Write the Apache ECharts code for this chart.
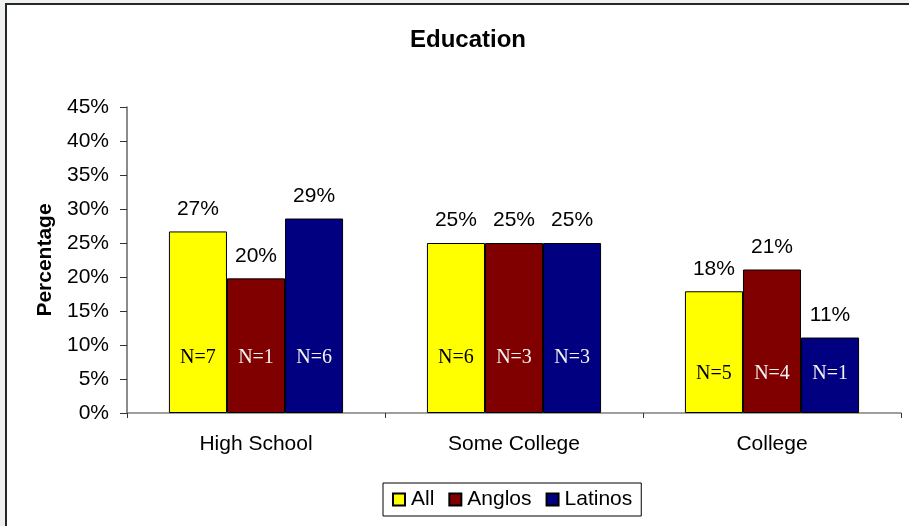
<!DOCTYPE html>
<html>
<head>
<meta charset="utf-8">
<script src="https://cdn.jsdelivr.net/npm/echarts@6/dist/echarts.min.js"></script>
<style>
html,body{margin:0;padding:0;background:#eef0f1;}
#chart{width:909px;height:526px;}
</style>
</head>
<body>
<div id="chart"></div>
<script>
const categories = ['High School', 'Some College', 'College'];
const seriesNames = ['All', 'Anglos', 'Latinos'];
const allPct = [26.7, 25, 17.9];
const angloPct = [19.8, 25, 21.1];
const latinoPct = [28.6, 25, 11.1];
const allN = [7, 6, 5];
const angloN = [1, 3, 4];
const latinoN = [6, 3, 1];
const yTicks = [0, 5, 10, 15, 20, 25, 30, 35, 40, 45];

const colors = ['#ffff00', '#800000', '#000080'];
const nTextColors = ['#000000', '#f2f2f2', '#f2f2f2'];
const nLabelLift = [45, 45, 29];
const pctData = [allPct, angloPct, latinoPct];
const nData = [allN, angloN, latinoN];
const sans = 'Liberation Sans, Arial, sans-serif';

const chart = echarts.init(document.getElementById('chart'));

const valueSeries = seriesNames.map((name, i) => ({
  name: name,
  type: 'bar',
  xAxisIndex: 0,
  yAxisIndex: 0,
  data: pctData[i],
  barGap: '0%',
  barCategoryGap: '32.5%',
  itemStyle: { color: colors[i], borderColor: '#000', borderWidth: 1 },
  emphasis: { disabled: true },
  label: {
    show: true,
    position: 'top',
    distance: 12,
    color: '#000',
    fontFamily: sans,
    fontSize: 21,
    formatter: p => Math.round(p.value) + '%'
  },
  z: 2
}));

const nSeries = seriesNames.map((name, i) => ({
  name: name + ' N',
  type: 'bar',
  xAxisIndex: 1,
  yAxisIndex: 0,
  data: pctData[i].map((v, j) => ({
    value: v,
    n: nData[i][j],
    label: { distance: nLabelLift[j] }
  })),
  barGap: '0%',
  barCategoryGap: '32.5%',
  itemStyle: { color: 'rgba(0,0,0,0)' },
  emphasis: { disabled: true },
  silent: true,
  label: {
    show: true,
    position: 'insideBottom',
    color: nTextColors[i],
    fontFamily: 'Liberation Serif, Times New Roman, serif',
    fontSize: 20,
    formatter: p => 'N=' + p.data.n
  },
  z: 3
}));

chart.setOption({
  backgroundColor: '#eef0f1',
  animation: false,
  graphic: [{
    type: 'rect',
    shape: { x: 6, y: 4, width: 920, height: 540 },
    style: { fill: '#ffffff', stroke: '#262626', lineWidth: 2 },
    z: -10,
    silent: true
  }],
  title: {
    text: 'Education',
    left: 463,
    top: 23,
    textAlign: 'center',
    textStyle: { fontFamily: sans, fontWeight: 'bold', fontSize: 24, color: '#000' }
  },
  legend: {
    data: seriesNames,
    left: 383,
    top: 483,
    padding: [6, 9, 6, 9],
    itemGap: 14,
    itemWidth: 12,
    itemHeight: 12,
    icon: 'rect',
    backgroundColor: '#fff',
    borderColor: '#000',
    borderWidth: 1,
    textStyle: { fontFamily: sans, fontSize: 21, color: '#000', padding: [0, 0, 0, 1] }
  },
  grid: { left: 127, right: 8, top: 107, bottom: 113, containLabel: false },
  xAxis: [{
    type: 'category',
    data: categories,
    axisLine: { lineStyle: { color: '#808080', width: 1.5 } },
    axisTick: { show: true, length: 5, lineStyle: { color: '#333' } },
    axisLabel: { margin: 21, color: '#000', fontFamily: sans, fontSize: 21 },
    splitLine: { show: false }
  }, {
    type: 'category',
    data: categories,
    show: false
  }],
  yAxis: [{
    type: 'value',
    min: 0,
    max: 45,
    interval: 5,
    name: 'Percentage',
    nameLocation: 'middle',
    nameGap: 70,
    nameTextStyle: { fontFamily: sans, fontWeight: 'bold', fontSize: 21, color: '#000' },
    axisLine: { show: true, lineStyle: { color: '#666', width: 1.5 } },
    axisTick: { show: true, length: 7, lineStyle: { color: '#333' } },
    axisLabel: {
      margin: 18,
      color: '#000',
      fontFamily: sans,
      fontSize: 21,
      formatter: v => (yTicks.indexOf(v) >= 0 ? v + '%' : '')
    },
    splitLine: { show: false }
  }],
  series: valueSeries.concat(nSeries)
});
</script>
</body>
</html>
